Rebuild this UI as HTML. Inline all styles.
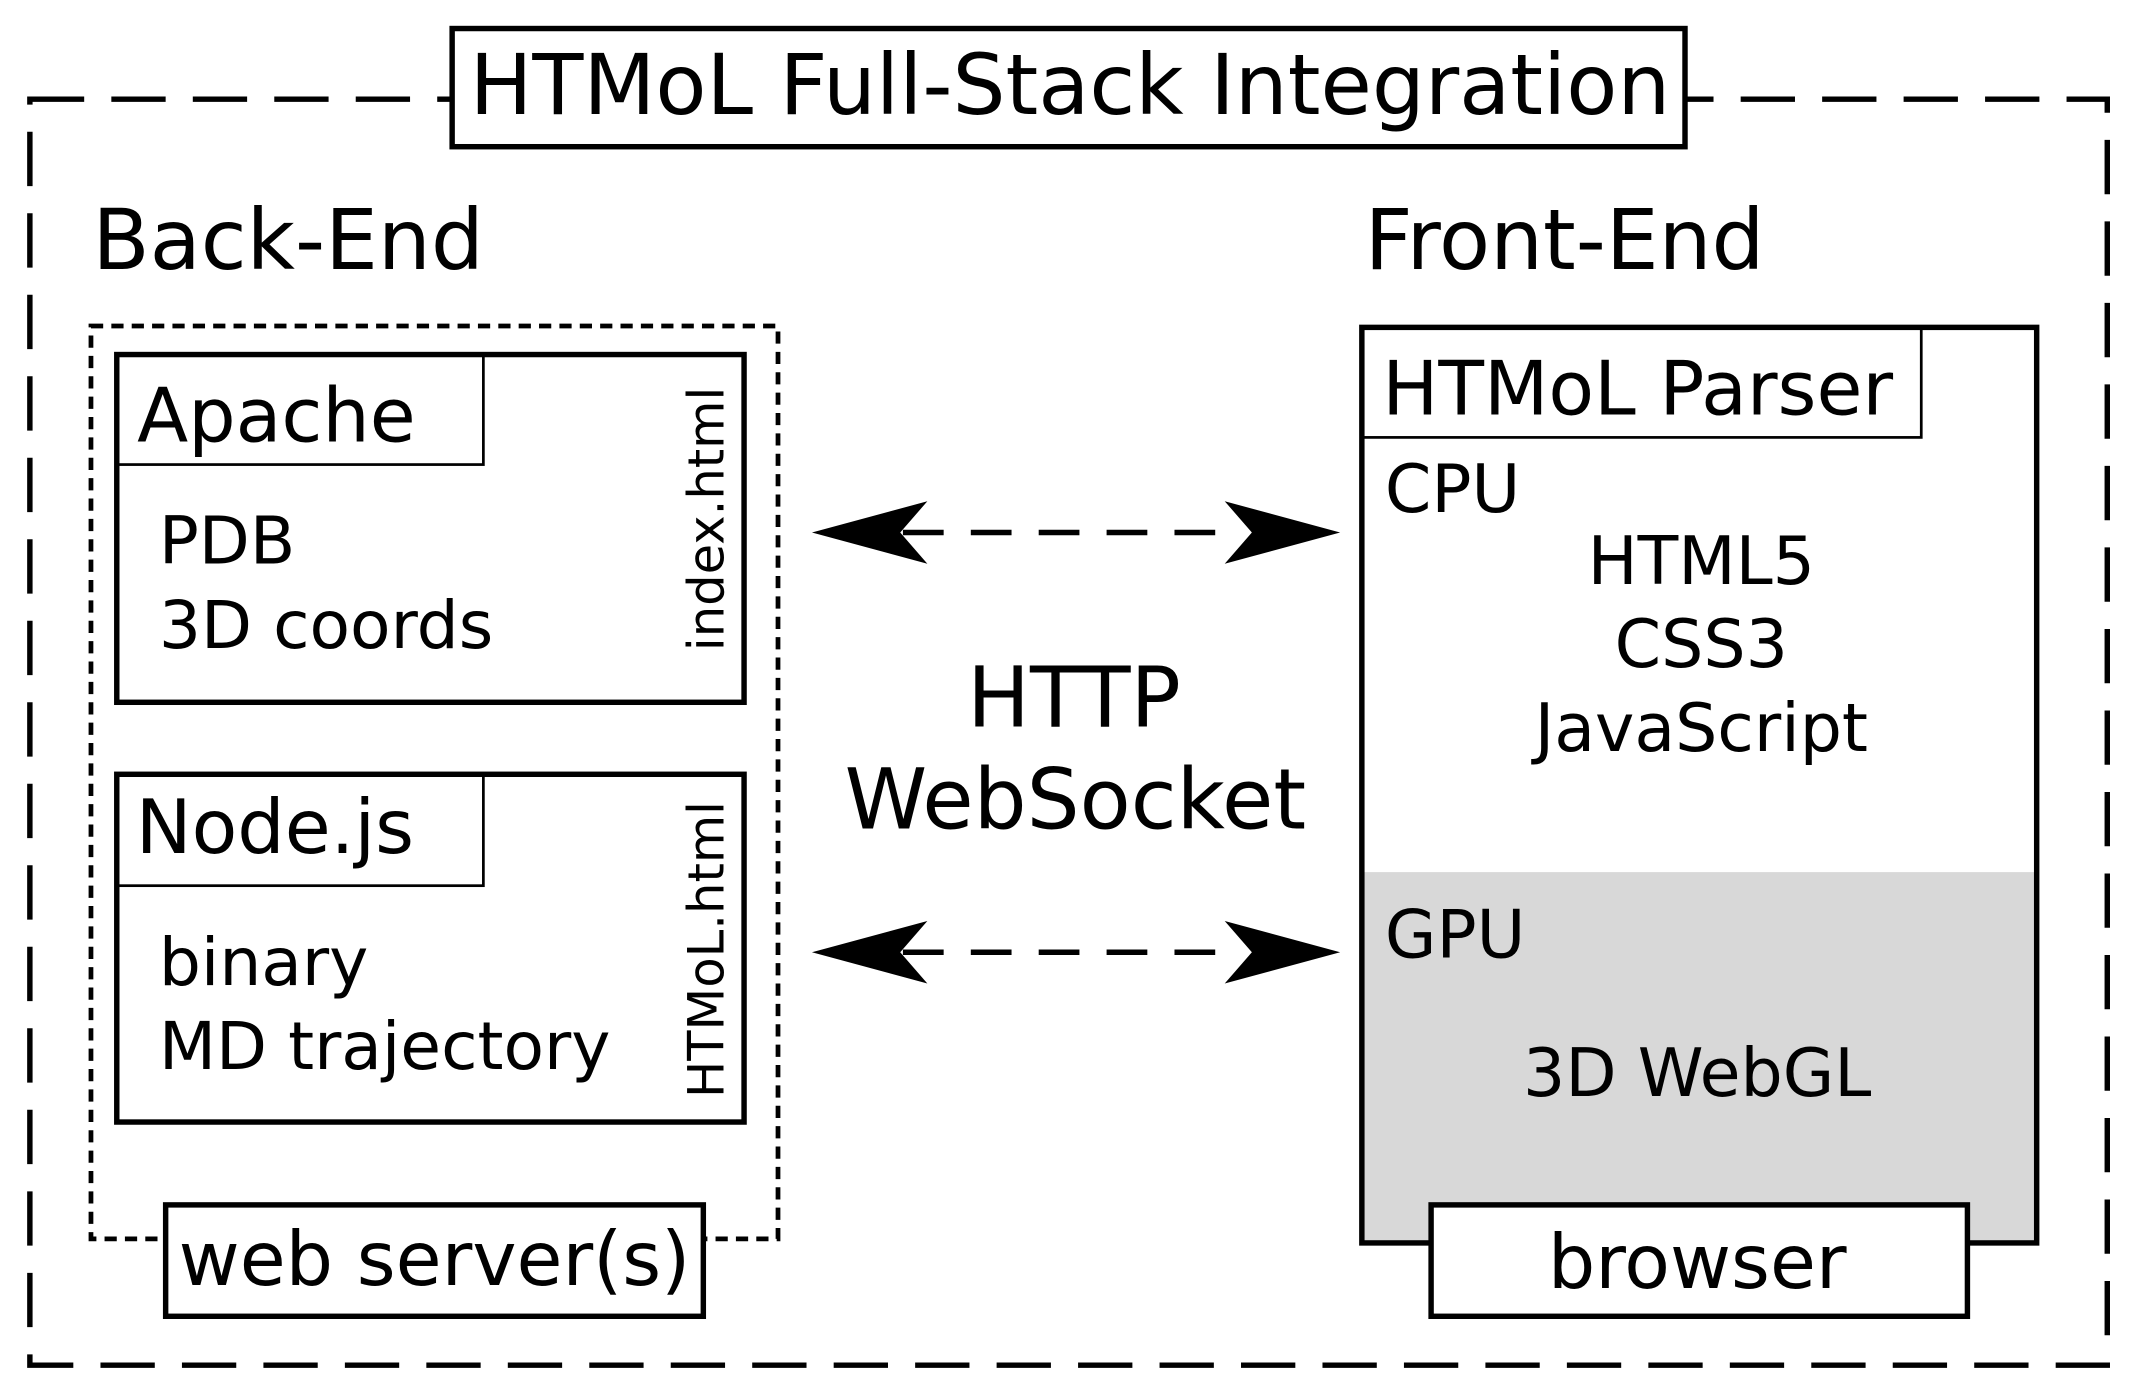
<!DOCTYPE html>
<html><head><meta charset="utf-8"><style>html,body{margin:0;padding:0;background:#fff}svg{display:block}text{font-family:"DejaVu Sans","Liberation Sans",sans-serif;fill:#000}</style></head><body>
<svg width="2129" height="1391" viewBox="0 0 1568 1024" preserveAspectRatio="none" xmlns="http://www.w3.org/2000/svg">
<rect x="0" y="0" width="1568" height="1024" fill="#fff"/>
<rect x="22" y="73" width="1530" height="932" fill="none" stroke="#000" stroke-width="4" stroke-dasharray="40,20"/>
<rect x="333" y="21" width="908" height="87" fill="#fff" stroke="#000" stroke-width="4"/>
<text x="788" y="84" font-size="61.5" text-anchor="middle">HTMoL Full-Stack Integration</text>
<text x="68" y="198" font-size="61.5">Back-End</text>
<text x="1005" y="198" font-size="61.5">Front-End</text>
<rect x="67" y="240" width="506" height="672" fill="none" stroke="#000" stroke-width="3.5" stroke-dasharray="9,6"/>
<rect x="86" y="261" width="462" height="256" fill="#fff" stroke="#000" stroke-width="4"/>
<rect x="86" y="261" width="270" height="81" fill="none" stroke="#000" stroke-width="2"/>
<text x="101" y="325" font-size="55">Apache</text>
<text x="117" y="415" font-size="48.8">PDB</text>
<text x="117" y="477" font-size="48.8">3D coords</text>
<text transform="translate(533,382) rotate(-90)" font-size="36.5" text-anchor="middle">index.html</text>
<rect x="86" y="570" width="462" height="256" fill="#fff" stroke="#000" stroke-width="4"/>
<rect x="86" y="570" width="270" height="82" fill="none" stroke="#000" stroke-width="2"/>
<text x="100" y="628" font-size="55">Node.js</text>
<text x="117" y="725" font-size="48.8">binary</text>
<text x="117" y="787" font-size="48.8">MD trajectory</text>
<text transform="translate(533,699) rotate(-90)" font-size="36.5" text-anchor="middle">HTMoL.html</text>
<rect x="122" y="887" width="396" height="82" fill="#fff" stroke="#000" stroke-width="4"/>
<text x="320" y="946" font-size="55" text-anchor="middle">web server(s)</text>
<g stroke="#000" stroke-width="4" stroke-dasharray="30,20">
<line x1="665" y1="392" x2="905" y2="392"/>
<line x1="665" y1="701" x2="905" y2="701"/>
</g>
<g fill="#000">
<polygon points="598,392 683,369 663,392 683,415"/>
<polygon points="987,392 902,369 922,392 902,415"/>
<polygon points="598,701 683,678 663,701 683,724"/>
<polygon points="987,701 902,678 922,701 902,724"/>
</g>
<text x="791" y="535" font-size="61.5" text-anchor="middle">HTTP</text>
<text x="792" y="610" font-size="61.5" text-anchor="middle">WebSocket</text>
<rect x="1003" y="642" width="497" height="273" fill="#d8d8d8"/>
<rect x="1003" y="241" width="497" height="674" fill="none" stroke="#000" stroke-width="4"/>
<rect x="1003" y="241" width="412" height="81" fill="none" stroke="#000" stroke-width="2"/>
<text x="1018" y="305" font-size="55">HTMoL Parser</text>
<text x="1020" y="377" font-size="49">CPU</text>
<text x="1253" y="430" font-size="49" text-anchor="middle">HTML5</text>
<text x="1253" y="491" font-size="49" text-anchor="middle">CSS3</text>
<text x="1253" y="553" font-size="49" text-anchor="middle">JavaScript</text>
<text x="1020" y="705" font-size="49">GPU</text>
<text x="1250" y="807" font-size="49" text-anchor="middle">3D WebGL</text>
<rect x="1054" y="887" width="395" height="82" fill="#fff" stroke="#000" stroke-width="4"/>
<text x="1250" y="948" font-size="55" text-anchor="middle">browser</text>
</svg>
</body></html>
